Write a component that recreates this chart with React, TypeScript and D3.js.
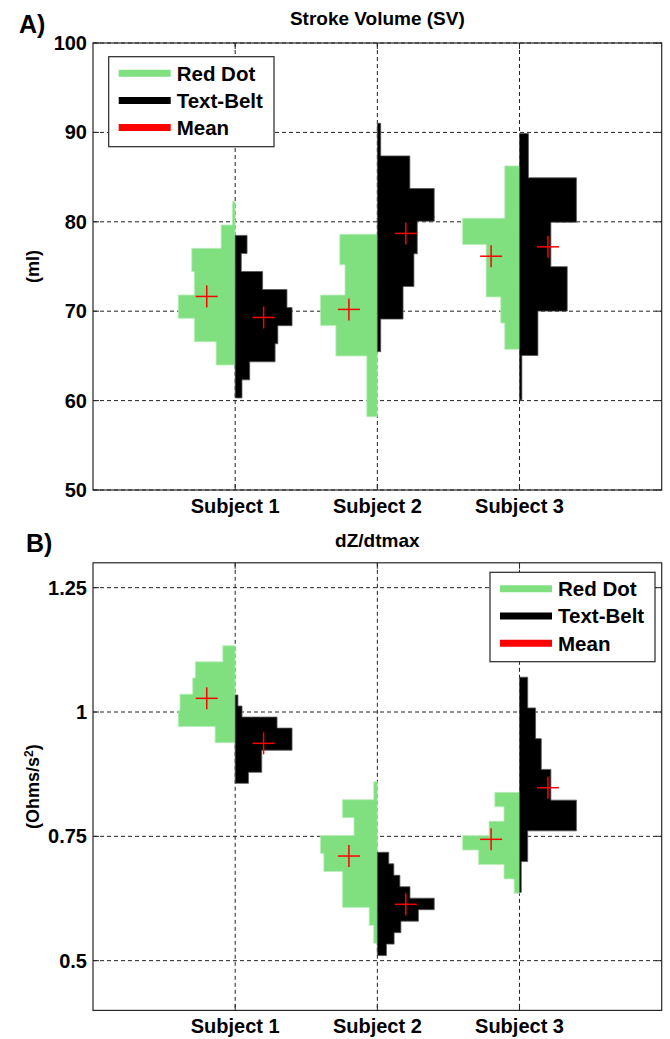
import React from "react";
import * as d3 from "d3";

// ---------- DATA ----------
const subjects = ["Subject 1", "Subject 2", "Subject 3"];

// Panel A: Stroke Volume (ml)
const svTicks = [50, 60, 70, 80, 90, 100];
const svRedDotStart = [63.98, 58.2, 65.74];
const svRedDotBin = [2.61, 3.4, 2.93];
const svRedDotCounts = [
  [19, 40.7, 56.7, 40.7, 43.3, 14, 2.7],
  [10.7, 10.7, 42.3, 58, 33, 38.3],
  [14.7, 18.7, 33.3, 33.3, 56.7, 14.7, 14.7],
];
const svTextBeltStart = [60.3, 65.47, 60.07];
const svTextBeltBin = [2.02, 3.65, 4.97];
const svTextBeltCounts = [
  [6.7, 14.3, 39.3, 42, 56, 51, 27, 6, 11.7],
  [3.3, 25.3, 36, 39.3, 56, 32, 3.3],
  [2.3, 18, 46.7, 30.7, 55.7, 8.7],
];
const svRedDotMean = [71.65, 70.2, 76.15];
const svTextBeltMean = [69.3, 78.7, 77.2];

// Panel B: dZ/dtmax (Ohms/s^2)
const dzTicks = [0.5, 0.75, 1, 1.25];
const dzTickLabels = ["0.5", "0.75", "1", "1.25"];
const dzRedDotStart = [0.9383, 0.5349, 0.6354];
const dzRedDotBin = [0.0325, 0.0361, 0.029];
const dzRedDotCounts = [
  [20, 56.7, 55, 42.3, 39.7, 12.3],
  [3.7, 8.3, 35.3, 35.3, 54.3, 57.7, 23.7, 35.3, 3.7],
  [5.3, 15.3, 40.3, 56, 30, 15.3, 24.3],
];
const dzTextBeltStart = [0.8566, 0.5102, 0.6374];
const dzTextBeltBin = [0.0222, 0.02308, 0.0618];
const dzTextBeltCounts = [
  [13, 26, 26, 55.7, 55.7, 41, 6.7, 2.7],
  [9, 16.6, 23.3, 40.6, 56.3, 32.3, 22.3, 16.3, 11.3],
  [1.7, 8, 55.7, 30.7, 21.3, 15.7, 8],
];
const dzRedDotMean = [1.0275, 0.7104, 0.744];
const dzTextBeltMean = [0.937, 0.6133, 0.8478];

const legendLabels = ["Red Dot", "Text-Belt", "Mean"];

// ---------- STYLE ----------
const GREEN = "#80e080";
const BLACK = "#000000";
const RED = "#ff0000";
const FONT = "'Liberation Sans', Arial, sans-serif";
const AXIS = "#262626";

const X0 = 93;
const X1 = 661.7;

type PanelProps = {
  top: number;
  bottom: number;
  domain: [number, number];
  ticks: number[];
  tickLabels: string[];
  rdStart: number[];
  rdBin: number[];
  rdCounts: number[][];
  tbStart: number[];
  tbBin: number[];
  tbCounts: number[][];
  rdMean: number[];
  tbMean: number[];
  title: string;
  titleY: number;
  letter: string;
  letterX: number;
  letterY: number;
  ylabel: React.ReactNode;
  legend: { x: number; y: number; w: number; h: number };
};

function Panel(p: PanelProps) {
  const x = d3.scaleLinear().domain([0, 4]).range([X0, X1]);
  const y = d3.scaleLinear().domain(p.domain).range([p.bottom, p.top]);
  const halfW = 0.4;

  const hist = (
    starts: number[],
    bins: number[],
    counts: number[][],
    side: number,
    color: string,
    edge: string,
    key: string
  ) =>
    counts.map((cs, i) => {
      const mx = d3.max(cs) as number;
      const cx = i + 1;
      const pts: [number, number][] = [];
      pts.push([x(cx), y(starts[i])]);
      cs.forEach((c, k) => {
        const lo = starts[i] + k * bins[i];
        const hi = lo + bins[i];
        const xv = x(cx + side * (c / mx) * halfW);
        pts.push([xv, y(lo)]);
        pts.push([xv, y(hi)]);
      });
      pts.push([x(cx), y(starts[i] + cs.length * bins[i])]);
      const d = d3.line()(pts) + "Z";
      return (
        <path
          key={`${key}-${i}`}
          d={d}
          fill={color}
          stroke={edge}
          strokeWidth={0.8}
        />
      );
    });

  const cross = (means: number[], side: number, key: string) =>
    means.map((m, i) => {
      const cx = x(i + 1 + side * 0.2);
      const cy = y(m);
      return (
        <g key={`${key}-${i}`} stroke={RED} strokeWidth={1.5}>
          <line x1={cx - 11} x2={cx + 11} y1={cy} y2={cy} />
          <line x1={cx} x2={cx} y1={cy - 11} y2={cy + 11} />
        </g>
      );
    });

  const lg = p.legend;
  const midY = (p.top + p.bottom) / 2;

  return (
    <g>
      {/* grid */}
      {p.ticks.map((t) => (
        <line
          key={`gy${t}`}
          x1={X0}
          x2={X1}
          y1={y(t)}
          y2={y(t)}
          stroke="#222"
          strokeWidth={1}
          strokeDasharray="4,3"
        />
      ))}
      {subjects.map((s, i) => (
        <line
          key={`gx${i}`}
          x1={x(i + 1)}
          x2={x(i + 1)}
          y1={p.top}
          y2={p.bottom}
          stroke="#222"
          strokeWidth={1}
          strokeDasharray="4,3"
        />
      ))}
      {/* histograms */}
      {hist(p.rdStart, p.rdBin, p.rdCounts, -1, GREEN, "#b8eeb8", "rd")}
      {hist(p.tbStart, p.tbBin, p.tbCounts, 1, BLACK, "#555", "tb")}
      {/* means */}
      {cross(p.rdMean, -1, "mrd")}
      {cross(p.tbMean, 1, "mtb")}
      {/* axes box */}
      <rect
        x={X0}
        y={p.top}
        width={X1 - X0}
        height={p.bottom - p.top}
        fill="none"
        stroke={AXIS}
        strokeWidth={1.2}
      />
      {/* ticks */}
      {p.ticks.map((t) => (
        <g key={`ty${t}`} stroke={AXIS} strokeWidth={1}>
          <line x1={X0} x2={X0 + 6} y1={y(t)} y2={y(t)} />
          <line x1={X1 - 6} x2={X1} y1={y(t)} y2={y(t)} />
        </g>
      ))}
      {subjects.map((s, i) => (
        <g key={`tx${i}`} stroke={AXIS} strokeWidth={1}>
          <line x1={x(i + 1)} x2={x(i + 1)} y1={p.bottom} y2={p.bottom - 6} />
          <line x1={x(i + 1)} x2={x(i + 1)} y1={p.top} y2={p.top + 6} />
        </g>
      ))}
      {/* tick labels */}
      {p.ticks.map((t, i) => (
        <text
          key={`ly${t}`}
          x={87}
          y={y(t)}
          dy="0.35em"
          textAnchor="end"
          fontFamily={FONT}
          fontWeight="bold"
          fontSize={20}
          fill="#000"
        >
          {p.tickLabels[i]}
        </text>
      ))}
      {subjects.map((s, i) => (
        <text
          key={`lx${i}`}
          x={x(i + 1)}
          y={p.bottom + 23}
          textAnchor="middle"
          fontFamily={FONT}
          fontWeight="bold"
          fontSize={20}
          fill="#000"
        >
          {s}
        </text>
      ))}
      {/* title */}
      <text
        x={(X0 + X1) / 2}
        y={p.titleY}
        textAnchor="middle"
        fontFamily={FONT}
        fontWeight="bold"
        fontSize={19}
        fill="#000"
      >
        {p.title}
      </text>
      <text
        x={p.letterX}
        y={p.letterY}
        fontFamily={FONT}
        fontWeight="bold"
        fontSize={25}
        fill="#000"
      >
        {p.letter}
      </text>
      {/* y label */}
      <text
        transform={`translate(39,${midY}) rotate(-90)`}
        textAnchor="middle"
        fontFamily={FONT}
        fontWeight="bold"
        fontSize={18}
        fill="#000"
      >
        {p.ylabel}
      </text>
      {/* legend */}
      <rect
        x={lg.x}
        y={lg.y}
        width={lg.w}
        height={lg.h}
        fill="#fff"
        stroke={AXIS}
        strokeWidth={1.2}
      />
      {legendLabels.map((l, i) => {
        const ly = lg.y + 16.5 + i * 27.2;
        const col = [GREEN, BLACK, RED][i];
        return (
          <g key={`lg${i}`}>
            <line
              x1={lg.x + 10}
              x2={lg.x + 62}
              y1={ly}
              y2={ly}
              stroke={col}
              strokeWidth={7}
            />
            <text
              x={lg.x + 68}
              y={ly}
              dy="0.36em"
              fontFamily={FONT}
              fontWeight="bold"
              fontSize={20.5}
              fill="#000"
            >
              {l}
            </text>
          </g>
        );
      })}
    </g>
  );
}

export default function App() {
  return (
    <svg
      width={670}
      height={1039}
      style={{ position: "absolute", left: 0, top: 0, display: "block", background: "#fff" }}
    >
      <rect x={0} y={0} width={670} height={1039} fill="#fff" />
      <Panel
        top={43}
        bottom={490}
        domain={[50, 100]}
        ticks={svTicks}
        tickLabels={svTicks.map(String)}
        rdStart={svRedDotStart}
        rdBin={svRedDotBin}
        rdCounts={svRedDotCounts}
        tbStart={svTextBeltStart}
        tbBin={svTextBeltBin}
        tbCounts={svTextBeltCounts}
        rdMean={svRedDotMean}
        tbMean={svTextBeltMean}
        title="Stroke Volume (SV)"
        titleY={25}
        letter="A)"
        letterX={19}
        letterY={33}
        ylabel="(ml)"
        legend={{ x: 108.7, y: 56.7, w: 165.3, h: 90 }}
      />
      <Panel
        top={562.8}
        bottom={1010.4}
        domain={[0.4, 1.3]}
        ticks={dzTicks}
        tickLabels={dzTickLabels}
        rdStart={dzRedDotStart}
        rdBin={dzRedDotBin}
        rdCounts={dzRedDotCounts}
        tbStart={dzTextBeltStart}
        tbBin={dzTextBeltBin}
        tbCounts={dzTextBeltCounts}
        rdMean={dzRedDotMean}
        tbMean={dzTextBeltMean}
        title="dZ/dtmax"
        titleY={547}
        letter="B)"
        letterX={26}
        letterY={552}
        ylabel={
          <>
            (Ohms/s<tspan dy="-6" fontSize={12}>2</tspan>
            <tspan dy="6">)</tspan>
          </>
        }
        legend={{ x: 490, y: 572.3, w: 165, h: 89.4 }}
      />
    </svg>
  );
}
